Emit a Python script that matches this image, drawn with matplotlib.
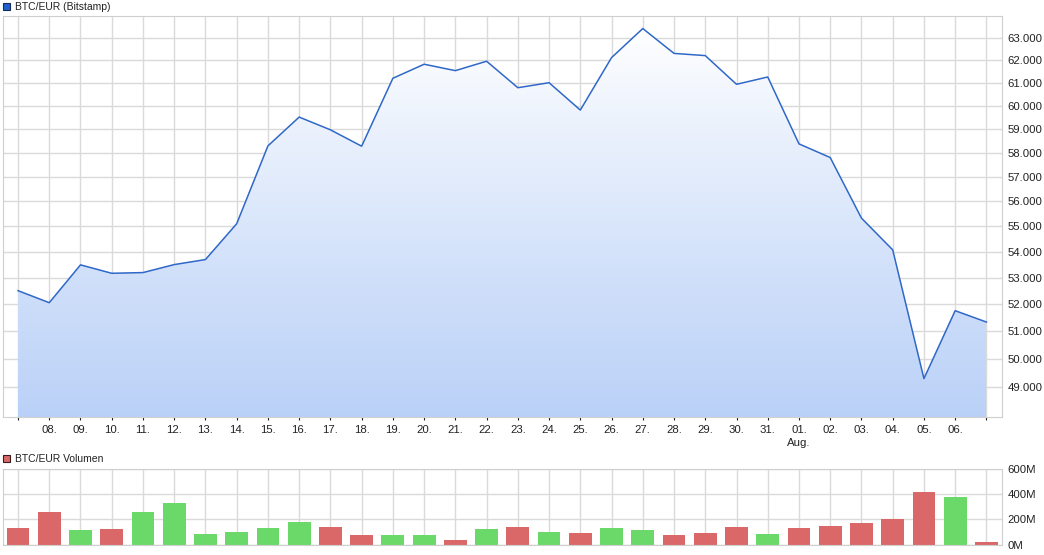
#!/usr/bin/python3

import numpy as np
import matplotlib
matplotlib.use('Agg')
import matplotlib.pyplot as plt
from matplotlib.patches import Rectangle
from matplotlib.ticker import FixedLocator, FuncFormatter, NullLocator

# data (07. Jul .. 07. Aug)
days = ['07.', '08.', '09.', '10.', '11.', '12.', '13.', '14.', '15.', '16.',
        '17.', '18.', '19.', '20.', '21.', '22.', '23.', '24.', '25.', '26.',
        '27.', '28.', '29.', '30.', '31.', '01.', '02.', '03.', '04.', '05.',
        '06.', '07.']
close = [52517, 52064, 53501, 53178, 53205, 53512, 53706, 55109, 58286, 59507,
         58964, 58273, 61193, 61815, 61530, 61949, 60779, 60998, 59808, 62110,
         63424, 62299, 62200, 60928, 61250, 58370, 57799, 55332, 54083, 49296,
         51765, 51344]
volume = [136, 261, 117, 125, 261, 333, 85, 101, 136, 181,
          141, 77, 77, 77, 37, 125, 141, 101, 93, 133,
          117, 77, 93, 141, 85, 133, 149, 173, 205, 421,
          381, 21]  # millions
price_ticks = [49000, 50000, 51000, 52000, 53000, 54000, 55000, 56000,
               57000, 58000, 59000, 60000, 61000, 62000, 63000]
vol_ticks = [0, 200, 400, 600]

# colours
lineBlue = '#2f68c8'
fillTop = np.array([1.0, 1.0, 1.0])
fillBot = np.array([0.73, 0.82, 0.97])
gridGrey = '#dadada'
red = '#db6868'
green = '#6ad96a'


def thousands(v, pos):
    return '{:,.0f}'.format(v).replace(',', '.')


def style(ax):
    ax.grid(True, color=gridGrey, lw=1.0)
    ax.set_axisbelow(True)
    for sp in ax.spines.values():
        sp.set_color('#cfcfcf')
    ax.yaxis.tick_right()
    ax.tick_params(axis='y', length=0, labelsize=8.2, pad=4, colors='#222222')
    ax.tick_params(axis='x', length=2, labelsize=8.2, colors='#222222',
                   pad=4)


def main():
    x = np.arange(len(close))
    fig = plt.figure(figsize=(10.44, 5.55), dpi=100)
    plt.rcParams['font.family'] = ['Liberation Sans', 'DejaVu Sans']

    ax = fig.add_axes([0.0029, 0.2486, 0.9569, 0.7226])
    ax.set_yscale('log')
    ax.set_xlim(-0.48, 31.5)
    ax.set_ylim(47950, 64000)
    style(ax)

    # gradient fill under the line
    poly = ax.fill_between(x, close, 1000, color='none', lw=0)
    grad = np.linspace(0, 1, 256)[:, None]
    cols = fillTop[None, :] * (1 - grad) + fillBot[None, :] * grad
    img = ax.imshow(cols[:, None, :].repeat(2, axis=1), aspect='auto',
                    extent=[x[0], x[-1], 47950, 63500], origin='upper',
                    zorder=1, interpolation='bilinear')
    img.set_clip_path(poly.get_paths()[0], transform=ax.transData)
    ax.plot(x, close, color=lineBlue, lw=1.1, zorder=3)
    ax.set_xlim(-0.48, 31.5)
    ax.set_ylim(47950, 64000)

    ax.yaxis.set_major_locator(FixedLocator(price_ticks))
    ax.yaxis.set_major_formatter(FuncFormatter(thousands))
    ax.yaxis.set_minor_locator(NullLocator())
    ax.set_xticks(x)
    labels = [''] + days[1:-1] + ['']
    labels[25] = '01.\nAug.'
    ax.set_xticklabels(labels, linespacing=1.3)

    # volume panel
    ax2 = fig.add_axes([0.0029, 0.0186, 0.9569, 0.1364])
    style(ax2)
    up = [False] + [close[i] > close[i - 1] for i in range(1, len(close))]
    barCols = [green if u else red for u in up]
    ax2.bar(x, volume, width=0.73, color=barCols, zorder=2)
    ax2.set_xlim(-0.48, 31.5)
    ax2.set_ylim(0, 600)
    ax2.set_xticks(x)
    ax2.set_xticklabels([])
    ax2.tick_params(axis='x', length=0)
    ax2.yaxis.set_major_locator(FixedLocator(vol_ticks))
    ax2.yaxis.set_major_formatter(FuncFormatter(lambda v, p: '%dM' % v))

    # legends
    fig.patches.append(Rectangle((3 / 1044, 1 - 10 / 555), 7 / 1044, 7 / 555,
                                 transform=fig.transFigure, fc='#1f5fcf',
                                 ec='#1a2a50', lw=0.8))
    fig.text(15 / 1044, 1 - 6.5 / 555, 'BTC/EUR (Bitstamp)', fontsize=7.5,
             va='center', color='#222222')
    fig.patches.append(Rectangle((3 / 1044, 1 - 462 / 555), 7 / 1044, 7 / 555,
                                 transform=fig.transFigure, fc=red,
                                 ec='#3a1a1a', lw=0.8))
    fig.text(15 / 1044, 1 - 458.5 / 555, 'BTC/EUR Volumen', fontsize=7.5,
             va='center', color='#222222')

    fig.savefig('out.png', dpi=100)


if __name__ == '__main__':
    main()
